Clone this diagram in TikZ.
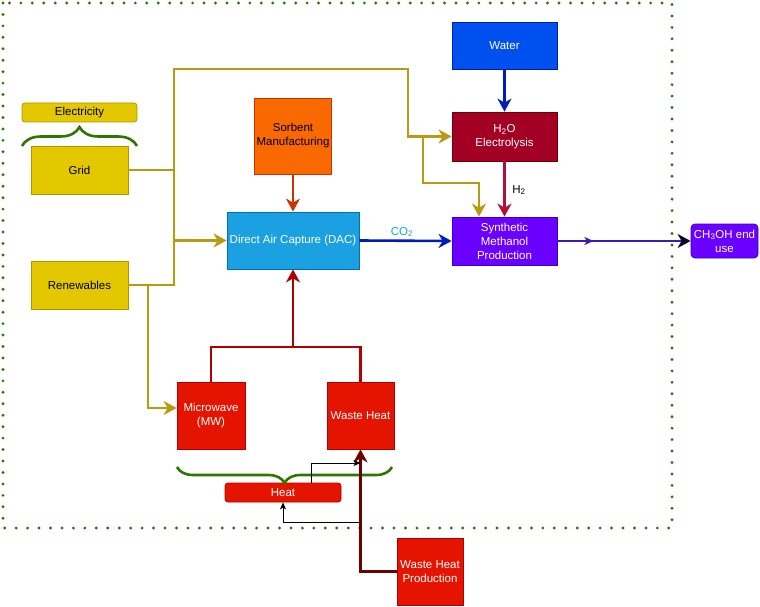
\documentclass[tikz,border=0pt]{standalone}
\usepackage{fontspec}
\setmainfont{Liberation Sans}
\usetikzlibrary{arrows.meta,decorations.pathreplacing,decorations.markings}
\definecolor{cYel}{HTML}{E3C800}
\definecolor{cYelD}{HTML}{B09500}
\definecolor{cGold}{HTML}{B89B10}
\definecolor{cOra}{HTML}{FA6800}
\definecolor{cOraD}{HTML}{C73500}
\definecolor{cDac}{HTML}{1BA1E2}
\definecolor{cDacD}{HTML}{006EAF}
\definecolor{cWat}{HTML}{0050EF}
\definecolor{cWatD}{HTML}{001DBC}
\definecolor{cEle}{HTML}{A20025}
\definecolor{cEleD}{HTML}{6F0000}
\definecolor{cMet}{HTML}{6A00FF}
\definecolor{cMetD}{HTML}{3700CC}
\definecolor{cRed}{HTML}{E51400}
\definecolor{cRedD}{HTML}{B20000}
\definecolor{cH2}{HTML}{B0103A}
\definecolor{cGreen}{HTML}{2D7600}
\definecolor{cCo}{HTML}{1BA1E2}
\definecolor{cPur}{HTML}{3D1AB8}
\begin{document}
\begin{tikzpicture}[x=1pt,y=-1pt,
  box/.style={draw, line width=0.8pt, inner sep=2pt, align=center,
    font=\fontsize{11.5}{14}\selectfont},
  yel/.style={box, fill=cYel, draw=cYelD, text=black},
  redbox/.style={box, fill=cRed, draw=cRedD, text=white},
  link/.style={line width=2.6pt},
  tip/.style={-{Stealth[length=13pt,width=14pt,inset=4pt]}},
  smalltip/.style={-{Stealth[length=7pt,width=6pt,inset=1.8pt]}},
  gold/.style={link, draw=cGold},
  redl/.style={link, draw=cRedD},
  bracestyle/.style={draw=cGreen, line width=2.6pt, decorate},
  border/.style={draw=cGreen, line width=3.2pt, line cap=round, dash pattern=on 0pt off 11.45pt},
  lbl/.style={font=\fontsize{11.5}{14}\selectfont, inner sep=0pt}
]
\useasboundingbox (0,0) rectangle (760,607);
\draw[border] (3,3) rectangle (672,528);

% nodes
\node[yel, rounded corners=3pt, minimum width=115pt, minimum height=19pt] (elec) at (79.5,112.5) {Electricity};
\node[yel, minimum width=97pt, minimum height=48pt] (grid) at (79.5,170) {Grid};
\node[yel, minimum width=97pt, minimum height=48pt] (ren) at (79.5,285) {Renewables};
\node[box, fill=cOra, draw=cOraD, minimum width=77pt, minimum height=76pt] (sorb) at (293,136) {Sorbent\\Manufacturing};
\node[box, fill=cDac, draw=cDacD, text=white, minimum width=132pt, minimum height=57pt] (dac) at (293,240.5) {Direct Air Capture (DAC)};
\node[box, fill=cWat, draw=cWatD, text=white, minimum width=105pt, minimum height=47pt] (water) at (504.5,45.5) {Water};
\node[box, fill=cEle, draw=cEleD, text=white, minimum width=105pt, minimum height=49pt] (elecl) at (504.5,136.5) {H\textsubscript{2}O\\Electrolysis};
\node[box, fill=cMet, draw=cMetD, text=white, minimum width=105pt, minimum height=48pt] (meth) at (504.5,241) {Synthetic\\Methanol\\Production};
\node[box, fill=cMet, draw=cMetD, text=white, rounded corners=4pt, minimum width=67pt, minimum height=34pt] (ch3) at (724.5,241) {CH\textsubscript{3}OH end\\use};
\node[redbox, minimum width=68pt, minimum height=67pt] (mw) at (211,415.5) {Microwave\\(MW)};
\node[redbox, minimum width=67pt, minimum height=67pt] (wh) at (360.5,415.5) {Waste Heat};
\node[redbox, rounded corners=3pt, minimum width=116pt, minimum height=19pt] (heat) at (283,492.5) {Heat};
\node[redbox, minimum width=66pt, minimum height=67pt] (whp) at (430,571.5) {Waste Heat\\Production};

% braces
\draw[bracestyle, decoration={brace, amplitude=19pt}] (22,146) -- (137,146);
\draw[bracestyle, decoration={brace, amplitude=16pt}] (392,467) -- (177,467);

% electricity connectors
\coordinate (gtop) at (174,69);
\coordinate (gbot) at (174,285);
\coordinate (gdac) at (174,240.5);
\coordinate (rsplit) at (148,285);
\coordinate (e1) at (408,69);
\coordinate (e2) at (408,136.5);
\coordinate (m0) at (423,136.5);
\coordinate (m1) at (423,183);
\coordinate (m2) at (479,183);
\draw[gold] (grid.east) -- (grid.east -| gtop);
\draw[gold, line cap=rect] (gtop) -- (gbot);
\draw[gold] (ren.east) -- (gbot);
\draw[gold, tip] (gdac) -- (dac.west);
\draw[gold, tip, line join=miter] (gtop) -- (e1) -- (e2) -- (elecl.west);
\draw[gold, tip, line join=miter] (m0) -- (m1) -- (m2) -- (m2 |- meth.north);
\draw[gold, tip, line join=miter] (rsplit) |- ([yshift=7.5pt]mw.west);

% process connectors
\draw[link, draw=cOraD, tip] (sorb.south) -- (dac.north);
\draw[link, draw=cWatD, tip] (dac.east) -- (meth.west);
\node[lbl, text=cCo] (co2) at (402,232) {CO\textsubscript{2}};
\draw[link, draw=cWatD, tip] (water.south) -- (elecl.north);
\draw[link, draw=cH2, tip] (elecl.south) -- (meth.north);
\node[lbl, text=black] (h2) at (519,190) {H\textsubscript{2}};
\draw[link, draw=cPur, -{Stealth[length=13pt,width=14pt,inset=4pt,color=black!80!cPur]},
  postaction={decorate, decoration={markings, mark=at position 36pt with {\arrow{Stealth[length=9pt,width=8pt,inset=2.5pt]}}}}]
  (meth.east) -- (ch3.west);

% heat connectors
\coordinate (r1) at (211,347);
\coordinate (r2) at (360.5,347);
\coordinate (r3) at (293,347);
\draw[redl, line join=miter] (mw.north) -- (r1) -- (r2) -- (wh.north);
\draw[redl, tip] (r3) -- (dac.south);
\coordinate (w1) at (360.5,571.5);
\draw[link, draw=cEleD, tip, line join=miter] (whp.west) -- (w1) -- (wh.south);
\coordinate (h1) at (311,463);
\coordinate (h2c) at (360.5,463);
\coordinate (h3) at (360.5,522);
\coordinate (h4) at (283,522);
\draw[line width=0.8pt, smalltip] (h1 |- heat.north) -- (h1) -- (h2c);
\draw[line width=0.8pt, smalltip] (h3) -- (h4) -- (heat.south);
\end{tikzpicture}
\end{document}
